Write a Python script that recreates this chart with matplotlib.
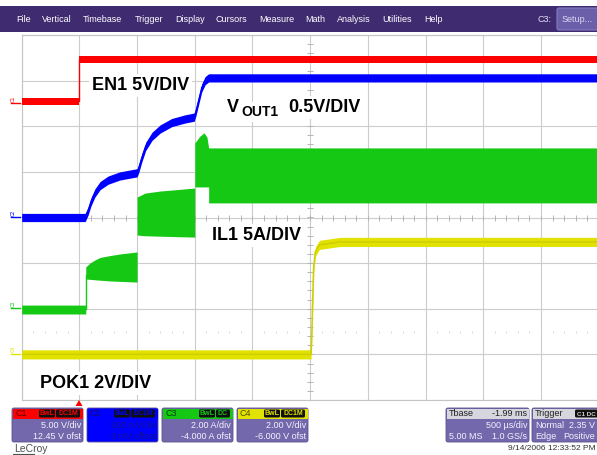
import matplotlib
matplotlib.use("Agg")
import matplotlib.pyplot as plt
from matplotlib.patches import Rectangle, FancyBboxPatch, Polygon
import numpy as np

plt.rcParams["font.family"] = ["Liberation Sans", "DejaVu Sans"]

# time in ms, 500 us/div, 10 div on screen
en1_t = [0.0, 0.5, 0.5, 5.0]
en1_v = [0.3, 0.3, 4.9, 4.9]

vout_t = [0.0, 0.55, 0.575, 0.60, 0.635, 0.68, 0.75, 0.85, 1.0, 1.015, 1.04, 1.075,
          1.13, 1.2, 1.3, 1.415, 1.495, 1.51, 1.535, 1.56, 1.59, 1.62, 5.0]
vout_v = [0.0, 0.0, 0.07, 0.17, 0.27, 0.35, 0.41, 0.455, 0.49, 0.54, 0.65, 0.78,
          0.89, 0.97, 1.04, 1.08, 1.10, 1.16, 1.29, 1.42, 1.50, 1.53, 1.53]

# inductor current ripple envelope (A)
il1_t = [0.0, 0.555, 0.555, 0.59, 0.635, 0.68, 0.765, 0.85, 1.0, 1.0, 1.07, 1.2,
         1.5, 1.5, 1.545, 1.58, 1.605, 1.62, 1.62, 5.0]
il1_hi = [0.16, 0.16, 1.83, 2.0, 2.14, 2.25, 2.33, 2.4, 2.49, 4.9, 5.07, 5.16,
          5.29, 7.27, 7.57, 7.71, 7.53, 7.05, 7.05, 7.05]
il1_lo = [-0.23, -0.23, 1.30, 1.29, 1.27, 1.25, 1.22, 1.2, 1.17, 3.23, 3.2, 3.18,
          3.14, 5.34, 5.34, 5.34, 5.34, 5.34, 4.64, 4.64]

pok_t = [0.0, 2.507, 2.515, 2.522, 2.53, 2.545, 2.58, 2.76, 5.0]
pok_v = [0.0, 0.0, 1.0, 2.4, 3.8, 4.5, 4.8, 4.93, 4.93]

# channel settings (per div, offset)
ch_scale = {"C1": 5.0, "C2": 0.5, "C3": 2.0, "C4": 2.0}
ch_offset = {"C1": 12.45, "C2": 0.0, "C3": -4.0, "C4": -6.0}
ch_color = {"C1": "#ff0000", "C2": "#0000ff", "C3": "#14c814", "C4": "#e2e200"}

menu_items = ["File", "Vertical", "Timebase", "Trigger", "Display", "Cursors",
              "Measure", "Math", "Analysis", "Utilities", "Help"]
menu_x = [16, 42, 83, 135, 175, 216, 259, 305, 337, 382, 424]


def to_div(vals, ch):
    return (np.asarray(vals) + ch_offset[ch]) / ch_scale[ch]


W, H = 597, 455
fig = plt.figure(figsize=(W / 100, H / 100), dpi=100)
fig.patch.set_facecolor("white")

# scope grid: x 21.7..598.7 px, y 35..400 px
ax = fig.add_axes([21.7 / W, (H - 400) / H, 577 / W, 365 / H])
ax.set_xlim(0, 5)
ax.set_ylim(-4, 4)
ax.set_xticks(np.arange(0, 5.01, 0.5))
ax.set_yticks(np.arange(-4, 4.01, 1))
ax.tick_params(length=0, labelleft=False, labelbottom=False)
ax.grid(True, color="#cccccc", lw=0.8)
ax.set_axisbelow(True)
for s in ax.spines.values():
    s.set_color("#c4c4c4")
    s.set_linewidth(0.8)

# center cross minor ticks (under the traces)
mt = np.arange(0, 5.01, 0.1)
ax.plot(mt, np.zeros_like(mt), ls="none", marker="|", ms=4, mew=0.7, color="#b4b4b4", zorder=1)
my = np.arange(-4, 4.01, 0.2)
ax.plot(np.full_like(my, 2.5), my, ls="none", marker="_", ms=4, mew=0.7, color="#b4b4b4", zorder=1)
ax.plot(mt, np.full_like(mt, -2.5), ls="none", marker="|", ms=2, mew=0.6, color="#d4d4d4", zorder=1)

# traces
en = to_div(en1_v, "C1")
ax.fill_between(en1_t, en - 0.08, en + 0.08, color=ch_color["C1"], lw=0, zorder=3)
ax.plot(en1_t, en, color=ch_color["C1"], lw=1, zorder=3)

vo = to_div(vout_v, "C2")
ax.fill_between(vout_t, vo - 0.09, vo + 0.09, color=ch_color["C2"], lw=0, zorder=3)
ax.plot(vout_t, vo, color=ch_color["C2"], lw=1, zorder=3)

ax.fill_between(il1_t, to_div(il1_lo, "C3"), to_div(il1_hi, "C3"), color=ch_color["C3"],
                lw=0, zorder=3)
ax.plot([0.555, 0.555], to_div([0.0, 1.5], "C3"), color=ch_color["C3"], lw=1, zorder=3)

pk = to_div(pok_v, "C4")
ax.fill_between(pok_t, pk - 0.1, pk + 0.1, color=ch_color["C4"], lw=0, zorder=3)
ax.plot(pok_t, pk, color="#d0d000", lw=1.2, zorder=3)

# overlay in pixel coordinates
ov = fig.add_axes([0, 0, 1, 1], zorder=5)
ov.set_xlim(0, W)
ov.set_ylim(H, 0)
ov.set_axis_off()
ov.patch.set_alpha(0)

# menu bar
ov.add_patch(Rectangle((0, 6), W, 26, fc="#3e2b70", ec="none"))
for name, x in zip(menu_items, menu_x):
    ov.text(x, 19.5, name, color="white", fontsize=6.5, va="center")
ov.text(538, 19.5, "C3:", color="#e4e2f2", fontsize=6.5, va="center")
ov.add_patch(FancyBboxPatch((557, 8), 42, 22, boxstyle="round,pad=0,rounding_size=2",
                            fc="#6b5faa", ec="#877dc2", lw=0.8))
ov.text(562, 19.5, "Setup...", color="#dcd8f0", fontsize=6.5, va="center")

# channel zero markers on the left edge
for ch in ["C1", "C2", "C3", "C4"]:
    yp = 217.5 - to_div([0.0], ch)[0] * 45.6
    ov.text(13, yp - 5, ch, color=ch_color[ch], fontsize=3.5, rotation=90,
            ha="center", va="center")
    ov.plot([11, 20], [yp - 0.5, yp - 0.5], color=ch_color[ch], lw=1)

# trace labels
lab = dict(fontsize=13, fontweight="bold", va="baseline", color="black",
           bbox=dict(fc="white", ec="none", pad=2))
ov.text(92, 90, "EN1 5V/DIV", **lab)
ov.text(227, 112, "V", **lab)
ov.text(241, 116, "OUT1", fontsize=10, fontweight="bold", va="baseline",
        bbox=dict(fc="white", ec="none", pad=2))
ov.text(288, 112, "0.5V/DIV", **lab)
ov.text(212, 240, "IL1 5A/DIV", **lab)
ov.text(40, 388, "POK1 2V/DIV", **lab)

# trigger position marker
ov.add_patch(Polygon([(75.5, 406), (82.5, 406), (79, 400)], closed=True, fc="#ff0000", ec="none"))

# channel setting boxes
body_col = "#7268ab"


def chan_box(x0, ch, name_col, tags, line1, line2, text_col, full=False):
    w, y0, h, hh = 71, 408, 34, 10
    ov.add_patch(FancyBboxPatch((x0, y0), w, h, boxstyle="round,pad=0,rounding_size=2",
                                fc=ch_color[ch] if full else body_col, ec="#5a5090", lw=0.6))
    ov.add_patch(Rectangle((x0 + 0.5, y0 + 0.5), w - 1, hh, fc=ch_color[ch], ec="none"))
    ov.text(x0 + 3, y0 + 5.8, ch, fontsize=6.5, color=name_col, va="center")
    xr = x0 + w - 3
    for tag in reversed(tags):
        tw = {"BwL": 16, "DC1M": 24, "DC": 14}[tag]
        ov.add_patch(FancyBboxPatch((xr - tw, y0 + 1.5), tw, 8,
                                    boxstyle="round,pad=0,rounding_size=1.5",
                                    fc="#101010", ec="none"))
        ov.text(xr - tw / 2, y0 + 5.8, tag, fontsize=5, fontweight="bold",
                color=ch_color[ch], ha="center", va="center")
        xr -= tw + 1
    ov.text(x0 + w - 2, 426, line1, fontsize=6.5, color=text_col, ha="right", va="center")
    ov.text(x0 + w - 2, 436.5, line2, fontsize=6.5, color=text_col, ha="right", va="center")


chan_box(12, "C1", "#5a0000", ["BwL", "DC1M"], "5.00 V/div", "12.45 V ofst", "#f4f2ff")
chan_box(87, "C2", "#101070", ["BwL", "DC1M"], "500 mV/div", "0 mV offset", "#14148a", full=True)
chan_box(162, "C3", "#064006", ["BwL", "DC"], "2.00 A/div", "-4.000 A ofst", "#f4f2ff")
chan_box(237, "C4", "#505000", ["BwL", "DC1M"], "2.00 V/div", "-6.000 V ofst", "#f4f2ff")

# timebase box
ov.add_patch(FancyBboxPatch((446, 408), 83, 34, boxstyle="round,pad=0,rounding_size=2",
                            fc=body_col, ec="#5a5090", lw=0.6))
ov.add_patch(Rectangle((446.5, 408.5), 82, 10, fc="#d6d6de", ec="none"))
ov.text(449, 414, "Tbase", fontsize=6.5, color="#202020", va="center")
ov.text(527, 414, "-1.99 ms", fontsize=6.5, color="#202020", va="center", ha="right")
ov.text(527, 426, "500 \u00b5s/div", fontsize=6.5, color="#f4f2ff", va="center", ha="right")
ov.text(449, 436.5, "5.00 MS", fontsize=6.5, color="#f4f2ff", va="center")
ov.text(527, 436.5, "1.0 GS/s", fontsize=6.5, color="#f4f2ff", va="center", ha="right")

# trigger box (runs to the right edge)
ov.add_patch(FancyBboxPatch((532, 408), 75, 34, boxstyle="round,pad=0,rounding_size=2",
                            fc=body_col, ec="#5a5090", lw=0.6))
ov.add_patch(Rectangle((532.5, 408.5), 74, 10, fc="#d6d6de", ec="none"))
ov.text(535, 414, "Trigger", fontsize=6.5, color="#202020", va="center")
ov.add_patch(FancyBboxPatch((575, 409.5), 23, 8, boxstyle="round,pad=0,rounding_size=1.5",
                            fc="#101010", ec="none"))
ov.text(586.5, 414, "C1 DC", fontsize=4.5, fontweight="bold", color="#d0d0d0",
        va="center", ha="center")
ov.text(535, 426, "Normal", fontsize=6.5, color="#f4f2ff", va="center")
ov.text(595, 426, "2.35 V", fontsize=6.5, color="#f4f2ff", va="center", ha="right")
ov.text(535, 436.5, "Edge", fontsize=6.5, color="#f4f2ff", va="center")
ov.text(595, 436.5, "Positive", fontsize=6.5, color="#f4f2ff", va="center", ha="right")

ov.text(596, 448.5, "9/14/2006 12:33:52 PM", fontsize=6, color="#303030", va="center", ha="right")
ov.text(14, 449, "LeCroy", fontsize=7.5, color="#505050", va="center")
ov.plot([13, 34], [454, 454], color="#505050", lw=0.8)

fig.savefig("out.png", dpi=100)
